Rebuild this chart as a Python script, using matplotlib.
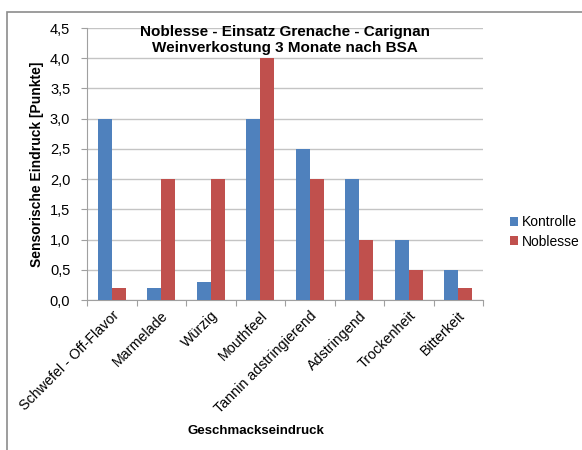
import matplotlib
matplotlib.use("Agg")
import matplotlib.pyplot as plt
from matplotlib.patches import Rectangle
import numpy as np

plt.rcParams['font.family'] = ['Liberation Sans', 'DejaVu Sans']

categories = ["Schwefel - Off-Flavor", "Marmelade", "Würzig", "Mouthfeel",
              "Tannin adstringierend", "Adstringend", "Trockenheit", "Bitterkeit"]
kontrolle = [3.0, 0.2, 0.3, 3.0, 2.5, 2.0, 1.0, 0.5]
noblesse = [0.2, 2.0, 2.0, 4.0, 2.0, 1.0, 0.5, 0.2]
yticks = [0.0, 0.5, 1.0, 1.5, 2.0, 2.5, 3.0, 3.5, 4.0, 4.5]

W, H = 582, 450
fig = plt.figure(figsize=(W / 100, H / 100), dpi=100)
ax = fig.add_axes([87 / W, 1 - 300 / H, (483 - 87) / W, (300 - 28) / H])

# outer chart frame (only left/top edges visible in the crop)
fig.patches.append(Rectangle((7 / W, -0.1), 1.2, 1 - 12 / H + 0.1,
                             transform=fig.transFigure, fill=False,
                             edgecolor="#8c8c8c", linewidth=1.2))

x = np.arange(len(categories))
bw = 0.285
ax.bar(x - bw / 2, kontrolle, bw, color="#4F81BD", label="Kontrolle", zorder=3)
ax.bar(x + bw / 2, noblesse, bw, color="#C0504D", label="Noblesse", zorder=3)

ax.set_xlim(-0.5, len(categories) - 0.5)
ax.set_ylim(0, 4.5)
ax.set_yticks(yticks)
ax.set_yticklabels([f"{v:.1f}".replace(".", ",") for v in yticks], fontsize=10.5)
ax.yaxis.grid(True, color="#c4c4c4", linewidth=1.0, zorder=0)
ax.set_axisbelow(True)

ax.set_xticks(np.arange(len(categories) + 1) - 0.5, minor=False)
ax.set_xticklabels([])
ax.set_xticks(x, minor=True)
ax.set_xticklabels(categories, minor=True, rotation=45, ha="right",
                   rotation_mode="anchor", fontsize=10.3)
ax.tick_params(axis="x", which="major", length=4, color="#a0a0a0")
ax.tick_params(axis="x", which="minor", length=0, pad=6)
ax.tick_params(axis="y", length=4, color="#a0a0a0", pad=8)

for s in ["top", "right"]:
    ax.spines[s].set_visible(False)
for s in ["left", "bottom"]:
    ax.spines[s].set_color("#a0a0a0")

ax.set_ylabel("Sensorische Eindruck [Punkte]", fontsize=10, fontweight="bold", labelpad=4)
fig.text(256 / W, 1 - 431 / H, "Geschmackseindruck", fontsize=9.5,
         fontweight="bold", ha="center", va="center")
fig.text(285 / W, 1 - 40 / H,
         "Noblesse - Einsatz Grenache - Carignan\nWeinverkostung 3 Monate nach BSA",
         fontsize=11, fontweight="bold", ha="center", va="center", linespacing=1.1)

ax.legend(loc="center left", bbox_to_anchor=(497 / W, 1 - 232 / H),
          bbox_transform=fig.transFigure, frameon=False, fontsize=10,
          handlelength=0.6, handleheight=0.6, handletextpad=0.3, labelspacing=0.4)

fig.savefig("out.png", dpi=100)
